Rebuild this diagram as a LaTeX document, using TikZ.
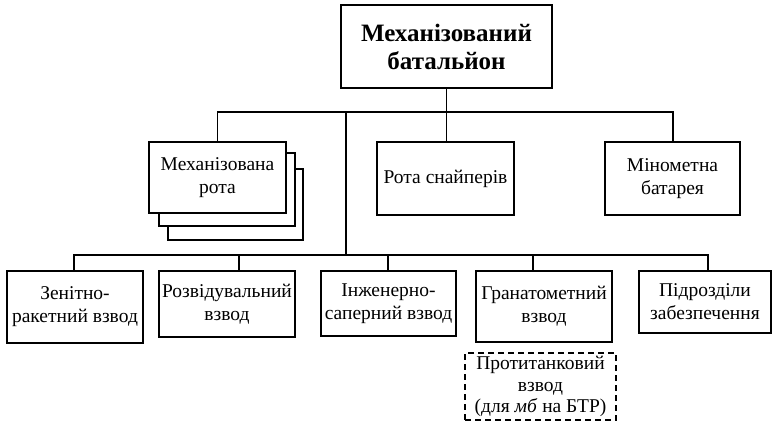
\documentclass[tikz,border=0pt]{standalone}
\usepackage{fontspec}
\setmainfont{Liberation Serif}
\begin{document}
\begin{tikzpicture}[x=1pt,y=-1pt,
  box/.style={draw, line width=1.8pt, fill=white, align=center, inner sep=2pt,
    font=\fontsize{19.5}{23}\selectfont},
  dbox/.style={box, dashed, line width=2pt, dash pattern=on 6pt off 4pt},
  conn/.style={line width=1.8pt}]
\useasboundingbox (0,0) rectangle (773,428);

% top
\node[box, minimum width=211pt, minimum height=83pt,
  font=\fontsize{25}{28}\selectfont\bfseries] (top) at (446.5,46.5)
  {Механізований\\батальйон};

% middle row
\node[box, minimum width=135pt, minimum height=71pt] (mech3) at (235.5,204.5) {};
\node[box, minimum width=136pt, minimum height=73pt] (mech2) at (227,189.5) {};
\node[box, minimum width=137pt, minimum height=71pt] (mech) at (217.5,177.5)
  {Механізована\\рота};
\node[box, minimum width=137pt, minimum height=73pt] (rota) at (445.5,178.5)
  {Рота снайперів};
\node[box, minimum width=135pt, minimum height=73pt] (min) at (672.5,178.5)
  {Мінометна\\батарея};

% bottom row
\node[box, minimum width=136pt, minimum height=72pt] (zen) at (75,307)
  {Зенітно-\\ракетний взвод};
\node[box, minimum width=136pt, minimum height=66pt] (rozv) at (227,304)
  {Розвідувальний\\взвод};
\node[box, minimum width=135pt, minimum height=65pt] (inzh) at (388.5,303.5)
  {Інженерно-\\саперний взвод};
\node[box, minimum width=136pt, minimum height=71pt] (gran) at (544,306.5)
  {Гранатометний\\взвод};
\node[box, minimum width=132pt, minimum height=62pt] (pidr) at (705,302)
  {Підрозділи\\забезпечення};
\node[dbox, minimum width=151pt, minimum height=67pt,
  font=\fontsize{19.5}{21.5}\selectfont] (prot) at (540.5,386.5)
  {Протитанковий\\взвод\\(для \textit{мб} на БТР)};

% connectors
\coordinate (hL) at (217,112);
\coordinate (hR) at (673,112);
\coordinate (hM) at (346,112);
\coordinate (bM) at (346,255);
\coordinate (bL) at (74,255);
\coordinate (bR) at (708,255);
\coordinate (b2) at (239,255);
\coordinate (b3) at (388,255);
\coordinate (b4) at (533,255);

\draw[conn] (top.south) -- (top.south |- rota.north);
\draw[conn] (mech.north) -- (mech.north |- hL) -- (hR) -- (hR |- min.north);
\draw[conn] (hM) -- (bM);
\draw[conn] (bL |- zen.north) -- (bL) -- (bR) -- (bR |- pidr.north);
\draw[conn] (b2) -- (b2 |- rozv.north);
\draw[conn] (b3) -- (b3 |- inzh.north);
\draw[conn] (b4) -- (b4 |- gran.north);
\end{tikzpicture}
\end{document}
